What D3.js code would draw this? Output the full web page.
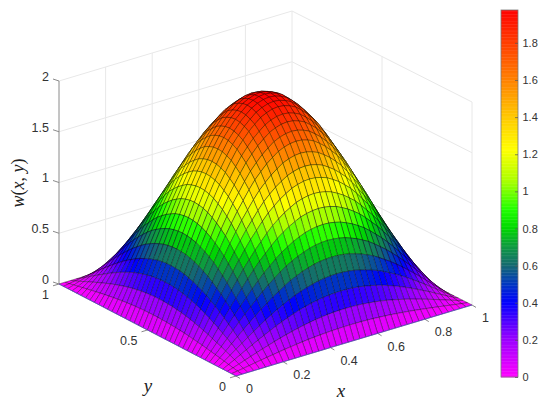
<!DOCTYPE html>
<html><head><meta charset="utf-8">
<script src="https://cdn.jsdelivr.net/npm/d3@7"></script>
<style>html,body{margin:0;background:#fff}svg{display:block}text{font-family:"Liberation Sans",Arial,sans-serif;fill:#333}
.m{font-family:"Liberation Serif",serif;font-style:italic;fill:#222}.m tspan.u{font-style:normal}</style>
</head><body><svg id="c" width="550" height="410"></svg>
<script>
// Height along the mid-span of the plate, read at each of the 41 mesh stations
const midspanW=[0,.13,.27,.42,.565,.71,.85,.985,1.12,1.245,1.365,1.47,1.575,1.67,1.745,1.815,1.87,1.92,1.95,1.97,1.977,
 1.97,1.95,1.92,1.87,1.815,1.745,1.67,1.575,1.47,1.365,1.245,1.12,.985,.85,.71,.565,.42,.27,.13,0];
const peakW=1.977;
const xTicks=[0,.2,.4,.6,.8,1], yTicks=[0,.5,1], zTicks=[0,.5,1,1.5,2];
const xTickLabels=["0","0.2","0.4","0.6","0.8","1"], yTickLabels=["0","0.5","1"], zTickLabels=["0","0.5","1","1.5","2"];
const barTicks=[0,.2,.4,.6,.8,1,1.2,1.4,1.6,1.8];
const barTickLabels=["0","0.2","0.4","0.6","0.8","1","1.2","1.4","1.6","1.8"];
const cmapValues=[0,.2,.4,.5,.6,.7,.8,.9,1.05,1.22,1.4,1.6,1.977];
const cmapColors=["#ff00ff","#9a00ff","#0000ff","#0038c0","#156a70","#0e9a40","#00d800","#20ff00","#a8ff00","#ffff00","#ffc800","#ff8000","#ff0000"];

const color=d3.scaleLinear().domain(cmapValues).range(cmapColors).clamp(true);
const n=midspanW.length;
const mesh=d3.scaleLinear().domain([0,n-1]).range([0,1]);
const table=midspanW.map(a=>midspanW.map(b=>a*b/peakW));

// projected floor + height
const xToPx=d3.scaleLinear().domain([0,1]).range([0,236]);
const xToPy=d3.scaleLinear().domain([0,1]).range([0,-71]);
const yToPx=d3.scaleLinear().domain([0,1]).range([0,-177]);
const yToPy=d3.scaleLinear().domain([0,1]).range([0,-92]);
const zToPy=d3.scaleLinear().domain([0,2]).range([0,-203]);
const P=(x,y,z)=>[236+xToPx(x)+yToPx(y)-3*x*y, 376+xToPy(x)+yToPy(y)+1*x*y+zToPy(z)];

const svg=d3.select("#c"), line=d3.line();
const grid=svg.append("g").attr("fill","none").attr("stroke","#e8e8e8").attr("stroke-width",1);
const seg=(g,a,b,stroke)=>g.append("path").attr("d",line([P(...a),P(...b)])).attr("stroke",stroke||null);
zTicks.forEach(z=>{seg(grid,[0,1,z],[1,1,z]);seg(grid,[1,1,z],[1,0,z]);});
xTicks.slice(1,-1).forEach(x=>seg(grid,[x,1,0],[x,1,2]));
seg(grid,[1,1,0],[1,1,2]); seg(grid,[1,0,0],[1,0,2]);
seg(grid,[1,.5,0],[1,.5,2]);
seg(grid,[0,1,0],[1,1,0]);seg(grid,[1,1,0],[1,0,0]);

const axes=svg.append("g").attr("fill","none").attr("stroke","#8a8a8a").attr("stroke-width",1);
seg(axes,[0,1,0],[0,1,2]);
zTicks.forEach(z=>{const p=P(0,1,z);axes.append("path").attr("d",line([p,[p[0]-6,p[1]-2]]));});
xTicks.forEach(x=>{const p=P(x,0,0);axes.append("path").attr("d",line([p,[p[0]+4,p[1]+2.4]]));});
yTicks.forEach(y=>{const p=P(0,y,0);axes.append("path").attr("d",line([p,[p[0]-6,p[1]+1.8]]));});

// surface, back to front
const cells=[];
for(let i=n-2;i>=0;i--)for(let j=n-2;j>=0;j--)cells.push({i,j});
svg.append("g").attr("stroke","#000").attr("stroke-width",.5).attr("stroke-opacity",.66).attr("stroke-linejoin","round")
 .selectAll("path").data(cells).join("path")
 .attr("fill",d=>color(table[d.i][d.j]+ (table[d.i+1][d.j+1]-table[d.i][d.j])/2))
 .attr("d",d=>line([[d.i,d.j],[d.i+1,d.j],[d.i+1,d.j+1],[d.i,d.j+1]].map(([a,b])=>P(mesh(a),mesh(b),table[a][b])))+"Z");

// front floor edges show over the surface
const front=svg.append("g").attr("fill","none").attr("stroke","#5a4fc4").attr("stroke-width",1).attr("stroke-opacity",.8);
seg(front,[0,0,0],[1,0,0]); seg(front,[0,0,0],[0,1,0]);

const lab=svg.append("g").attr("font-size",12.5);
const tx=(s,x,y,a)=>lab.append("text").attr("x",x).attr("y",y).attr("text-anchor",a||"middle").attr("dominant-baseline","middle").text(s);
zTicks.forEach((z,k)=>{const p=P(0,1,z);tx(zTickLabels[k],p[0]-10,p[1]-3.5,"end");});
xTicks.forEach((x,k)=>{const p=P(x,0,0);tx(xTickLabels[k],p[0]+10,p[1]+14,"start");});
yTicks.forEach((y,k)=>{const p=P(0,y,0);tx(yTickLabels[k],p[0]-10,p[1]+12,"end");});

svg.append("text").attr("class","m").attr("x",341).attr("y",397).attr("text-anchor","middle").attr("font-size",19).text("x");
svg.append("text").attr("class","m").attr("x",148).attr("y",392).attr("text-anchor","middle").attr("font-size",19).text("y");
const wl=svg.append("text").attr("class","m").attr("transform","translate(24,183) rotate(-90)").attr("text-anchor","middle").attr("font-size",18);
wl.append("tspan").text("w");wl.append("tspan").attr("class","u").text("(");wl.append("tspan").text("x");wl.append("tspan").attr("class","u").text(", ");wl.append("tspan").text("y");wl.append("tspan").attr("class","u").text(")");

// colour bar
const barY=d3.scaleLinear().domain([0,peakW]).range([377,10]);
const bar=svg.append("g");
bar.selectAll("rect").data(d3.range(0,peakW,peakW/256)).join("rect")
 .attr("x",501).attr("width",17).attr("y",d=>barY(d+peakW/256)).attr("height",d=>barY(d)-barY(d+peakW/256)+.4).attr("fill",d=>color(d));
bar.append("rect").attr("x",501).attr("y",10).attr("width",17).attr("height",367).attr("fill","none").attr("stroke","#7a7a7a").attr("stroke-width",.8);
const barAxis=d3.axisRight(barY).tickValues(barTicks).tickFormat((d,i)=>barTickLabels[i]).tickSize(-3).tickPadding(4.5);
const ba=svg.append("g").attr("transform","translate(518,0)").call(barAxis);
ba.select(".domain").remove();
ba.selectAll("line").attr("stroke","#555").attr("stroke-width",.7);
ba.selectAll("text").attr("font-size",11).attr("font-family",'"Liberation Sans",Arial,sans-serif').attr("fill","#333");
</script></body></html>
